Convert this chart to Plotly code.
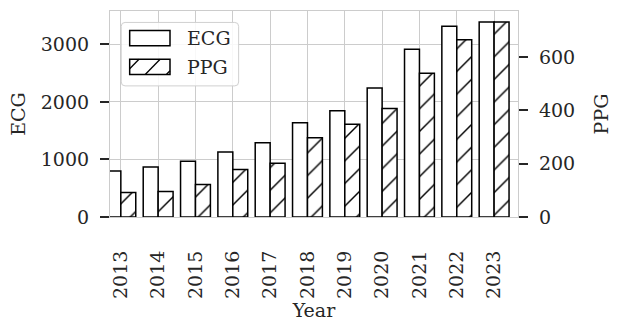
import plotly.graph_objects as go

# Yearly counts of ECG and PPG studies
years = ["2013", "2014", "2015", "2016", "2017", "2018",
         "2019", "2020", "2021", "2022", "2023"]
ecg_counts = [800, 870, 970, 1130, 1290, 1640, 1845, 2240, 2915, 3315, 3390]
ppg_counts = [92, 96, 122, 178, 202, 297, 348, 407, 539, 665, 732]

ecg_ticks = [0, 1000, 2000, 3000]
ppg_ticks = [0, 200, 400, 600]

FONT = "DejaVu Serif"
FS = 19
TEXT = "#262626"
SPINE = "#cccccc"
W, H = 618, 322
L, R, T, B = 110, 83, 10, 101

positions = list(range(len(years)))

fig = go.Figure()
fig.add_trace(go.Bar(
    x=positions, y=ecg_counts, name="ECG",
    offset=-0.4, width=0.4,
    marker=dict(color="white", line=dict(color="black", width=1.5)),
    showlegend=False,
))
fig.add_trace(go.Bar(
    x=positions, y=ppg_counts, name="PPG", yaxis="y2",
    offset=0.0, width=0.4,
    marker=dict(color="white", line=dict(color="black", width=1.5),
                pattern=dict(shape="/", fgcolor="#000000", fgopacity=1,
                             bgcolor="white", fillmode="replace",
                             size=16, solidity=0.09)),
    showlegend=False,
))

tick_common = dict(ticks="outside", ticklen=9, tickwidth=1.6, tickcolor=TEXT,
                   tickfont=dict(family=FONT, size=FS, color=TEXT),
                   showline=True, linecolor=SPINE, linewidth=1.2, zeroline=False)

fig.update_layout(
    width=W, height=H,
    margin=dict(l=L, r=R, t=T, b=B),
    paper_bgcolor="white", plot_bgcolor="white",
    barmode="overlay",
    font=dict(family=FONT, size=FS, color=TEXT),
    xaxis=dict(
        range=[-0.29, 10.64], tickmode="array", tickvals=positions, ticktext=years,
        tickangle=-90, ticks="", ticklabelstandoff=25,
        tickfont=dict(family=FONT, size=FS, color=TEXT),
        showgrid=True, gridcolor=SPINE, gridwidth=1,
        showline=True, linecolor=SPINE, linewidth=1.2, mirror=True, zeroline=False,
        title=dict(text="Year", font=dict(family=FONT, size=FS, color=TEXT), standoff=0),
    ),
    yaxis=dict(
        range=[0, 3580], tickmode="array", tickvals=ecg_ticks,
        showgrid=True, gridcolor=SPINE, gridwidth=1, mirror=True,
        ticklabelstandoff=7,
        title=dict(text="ECG", font=dict(family=FONT, size=FS, color=TEXT), standoff=10),
        **tick_common,
    ),
    yaxis2=dict(
        range=[0, 773], tickmode="array", tickvals=ppg_ticks,
        overlaying="y", side="right", showgrid=False,
        ticklabelstandoff=7,
        title=dict(text="PPG", font=dict(family=FONT, size=FS, color=TEXT), standoff=20),
        **tick_common,
    ),
)


# Legend drawn in pixel space, converted to paper coordinates
def px(x):
    return (x - L) / (W - L - R)


def py(y):
    return (H - B - y) / (H - T - B)


def rounded_box(x0, y0, x1, y1, r):
    return (f"M{px(x0 + r)},{py(y0)} L{px(x1 - r)},{py(y0)} "
            f"Q{px(x1)},{py(y0)} {px(x1)},{py(y0 + r)} "
            f"L{px(x1)},{py(y1 - r)} Q{px(x1)},{py(y1)} {px(x1 - r)},{py(y1)} "
            f"L{px(x0 + r)},{py(y1)} Q{px(x0)},{py(y1)} {px(x0)},{py(y1 - r)} "
            f"L{px(x0)},{py(y0 + r)} Q{px(x0)},{py(y0)} {px(x0 + r)},{py(y0)} Z")


fig.add_shape(type="path", xref="paper", yref="paper",
              path=rounded_box(121.7, 21.7, 244, 86.7, 4),
              line=dict(color="#d0d0d0", width=1), fillcolor="rgba(255,255,255,0.85)")

sw_x0, sw_x1 = 130.5, 172.5
swatches = [("ECG", 30.0, 45.5, False), ("PPG", 59.5, 75.0, True)]
for label, y0, y1, hatched in swatches:
    fig.add_shape(type="rect", xref="paper", yref="paper",
                  x0=px(sw_x0), x1=px(sw_x1), y0=py(y1), y1=py(y0),
                  line=dict(color="black", width=1.5), fillcolor="white")
    if hatched:
        # diagonal hatch lines px + py = c, clipped to the swatch
        for c in (199.7, 221.7, 243.7):
            xa = max(sw_x0, c - y1)
            xb = min(sw_x1, c - y0)
            if xb > xa:
                fig.add_shape(type="line", xref="paper", yref="paper",
                              x0=px(xa), y0=py(c - xa), x1=px(xb), y1=py(c - xb),
                              line=dict(color="black", width=1.3))
    fig.add_annotation(text=label, xref="paper", yref="paper",
                       x=px(188), y=py((y0 + y1) / 2), xanchor="left", yanchor="middle",
                       showarrow=False, font=dict(family=FONT, size=FS, color=TEXT))

fig.write_html("out.html")
